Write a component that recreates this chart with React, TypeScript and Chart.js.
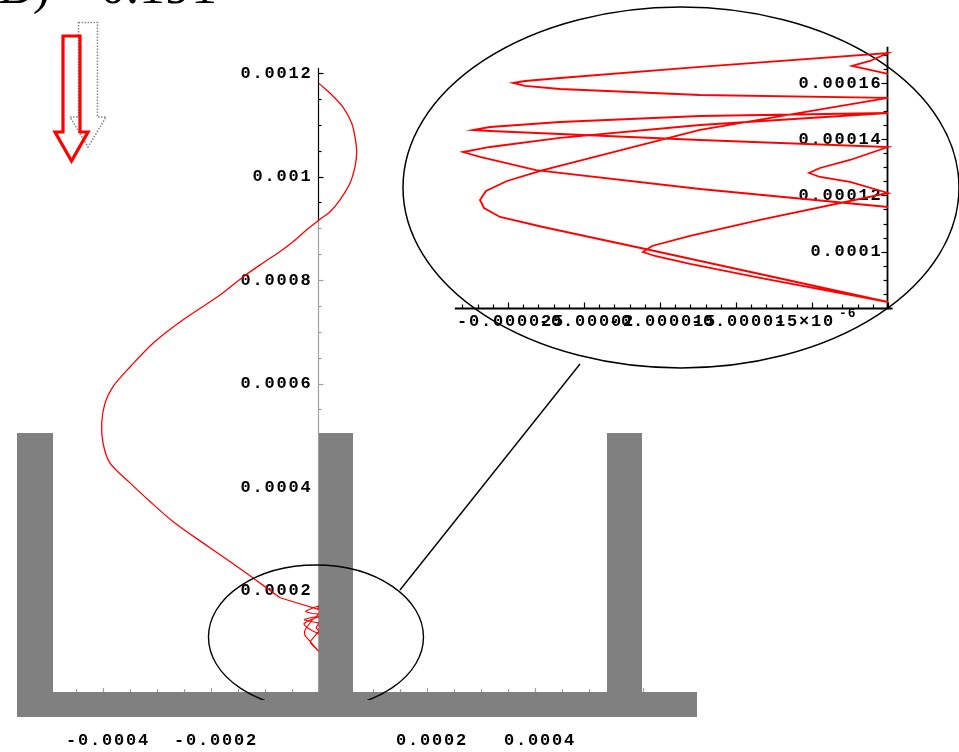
import React, { useEffect, useRef } from 'react';
import { Chart, registerables } from 'chart.js';

Chart.register(...registerables);

// Trajectory of the particle (x, y in metres): swing from the top down to the wall
const pathX = [0, 0.0000204, 0.0000444, 0.0000606, 0.0000667, 0.0000698, 0.0000667, 0.0000574, 0.0000389, 0.0000204, 0, -0.0000228, -0.0000481, -0.0000722, -0.0001037, -0.0001407, -0.0001833, -0.0002574, -0.0003074, -0.00035, -0.0003815, -0.0003963, -0.0004024, -0.0004, -0.000387, -0.00035, -0.000313, -0.00027, -0.000215, -0.000165, -0.000122, -0.0000722];
const pathY = [0.00118, 0.001161, 0.001134, 0.001103, 0.001076, 0.001048, 0.001019, 0.000987, 0.000955, 0.000932, 0.000916, 0.000897, 0.000874, 0.000855, 0.000833, 0.000806, 0.000771, 0.000719, 0.000678, 0.000632, 0.000594, 0.000562, 0.000524, 0.000485, 0.000446, 0.000408, 0.000372, 0.000333, 0.000292, 0.000256, 0.000224, 0.000186];

// Bouncing against the middle wall (shown magnified in the inset)
const nearX = [
  0, -0.000001184, -0.000002369, -0.000001184, 0,
  -0.00001237, -0.000021582, -0.000023885, -0.000024675, -0.000023885, -0.000021582, -0.00001237, 0,
  -0.00001237, -0.000022701, -0.00002507, -0.000026452, -0.000026846, -0.000026583, -0.00002553, -0.000022701, -0.00001566, 0,
  -0.000008422, -0.000013028, -0.000015331, -0.000016121, -0.000015529, -0.000013028, -0.000008422, 0,
  -0.0000025, -0.000004474, -0.000005198, -0.000004474, -0.0000025, 0,
  -0.00001237, -0.000021582, -0.000026188, -0.000027307, -0.000026188, -0.000021582, -0.00001237, 0,
  -0.00001237, -0.000021582, -0.000026188, -0.000027965, -0.000026846, -0.000023162, -0.00001237, 0,
];
const nearY = [
  0.00016312, 0.00016454, 0.00016596, 0.00016774, 0.00017058,
  0.00016561, 0.0001617, 0.00016063, 0.00015992, 0.00015886, 0.00015779, 0.00015566, 0.0001546,
  0.00014323, 0.000129, 0.00012511, 0.00012156, 0.00011836, 0.00011552, 0.00011233, 0.00010877, 0.0001006, 0.00008213,
  0.00009066, 0.00009563, 0.00009847, 0.00009989, 0.00010202, 0.00010558, 0.0001113, 0.00012085,
  0.00012476, 0.00012653, 0.00012795, 0.00012973, 0.00013257, 0.00013719,
  0.00013968, 0.00014181, 0.00014287, 0.00014323, 0.00014429, 0.00014607, 0.0001482, 0.00014927,
  0.000145, 0.00014039, 0.00013719, 0.00013541, 0.00013364, 0.000129, 0.00012227, 0.00011588,
];

// Container walls and floor
const wallX0 = [-0.000559, 0, 0.000533];
const wallX1 = [-0.000493, 0.000063, 0.000598];
const wallTop = 0.000504;
const floorX = [-0.000559, 0.0007];
const floorY = [-0.0000445, 0.000004];

// Main axes tick labels
const mainXTicks = [-0.0004, -0.0002, 0.0002, 0.0004];
const mainXLabels = ['-0.0004', '-0.0002', '0.0002', '0.0004'];
const mainYTicks = [0.0002, 0.0004, 0.0006, 0.0008, 0.001, 0.0012];
const mainYLabels = ['0.0002', '0.0004', '0.0006', '0.0008', '0.001', '0.0012'];

// Inset axes tick labels
const insetXTicks = [-0.000025, -0.00002, -0.000015, -0.00001];
const insetXLabels = ['-0.000025', '-0.00002', '-0.000015', '-0.00001'];
const insetYTicks = [0.0001, 0.00012, 0.00014, 0.00016];
const insetYLabels = ['0.0001', '0.00012', '0.00014', '0.00016'];

const MONO = 'bold 17px "Liberation Mono", "DejaVu Sans Mono", monospace';
const SPACING = '1.8px';
const RED = '#ff0000';
const GRAY = '#808080';

function seg(ctx: CanvasRenderingContext2D, x1: number, y1: number, x2: number, y2: number) {
  ctx.beginPath();
  ctx.moveTo(x1, y1);
  ctx.lineTo(x2, y2);
  ctx.stroke();
}

function arrowPath(ctx: CanvasRenderingContext2D, l: number, r: number, top: number, neck: number, hl: number, hr: number, tipX: number, tipY: number) {
  ctx.beginPath();
  ctx.moveTo(l, top);
  ctx.lineTo(r, top);
  ctx.lineTo(r, neck);
  ctx.lineTo(hr, neck);
  ctx.lineTo(tipX, tipY);
  ctx.lineTo(hl, neck);
  ctx.lineTo(l, neck);
  ctx.closePath();
}

const mainDecor = {
  id: 'mainDecor',
  beforeDatasetsDraw(chart: any) {
    const { ctx } = chart;
    const xs = chart.scales.x;
    const ys = chart.scales.y;
    ctx.save();
    const x0 = Math.round(xs.getPixelForValue(0)) - 0.5;
    const y0 = ys.getPixelForValue(0);
    const split = 0.000915;
    ctx.lineWidth = 1.2;
    ctx.strokeStyle = '#a0a0a0';
    seg(ctx, x0, ys.getPixelForValue(split), x0, y0);
    ctx.strokeStyle = '#000';
    seg(ctx, x0, ys.getPixelForValue(0.00121), x0, ys.getPixelForValue(split));
    for (let k = 0; k <= 24; k++) {
      const v = k * 0.00005;
      const py = Math.round(ys.getPixelForValue(v)) + 0.5;
      ctx.strokeStyle = v > split ? '#000' : '#a0a0a0';
      seg(ctx, x0, py, x0 + (k % 4 === 0 ? 5 : 3), py);
    }
    // x-axis ticks (axis line itself lies under the floor)
    ctx.strokeStyle = '#a0a0a0';
    for (let k = -10; k <= 12; k++) {
      const px = Math.round(xs.getPixelForValue(k * 0.00005)) + 0.5;
      seg(ctx, px, y0, px, y0 - (k % 4 === 0 ? 6 : 5));
    }
    ctx.fillStyle = '#000';
    ctx.font = MONO;
    (ctx as any).letterSpacing = SPACING;
    ctx.textAlign = 'right';
    ctx.textBaseline = 'middle';
    mainYTicks.forEach((v, i) => {
      ctx.fillText(mainYLabels[i], x0 - 6, ys.getPixelForValue(v) + 0.5);
    });
    ctx.textAlign = 'center';
    mainXTicks.forEach((v, i) => {
      ctx.fillText(mainXLabels[i], xs.getPixelForValue(v) + 5, 741);
    });
    ctx.restore();
  },
  afterDatasetsDraw(chart: any) {
    const { ctx } = chart;
    const xs = chart.scales.x;
    const ys = chart.scales.y;
    const X = (v: number) => xs.getPixelForValue(v);
    const Y = (v: number) => ys.getPixelForValue(v);
    ctx.save();
    // walls and floor
    ctx.fillStyle = GRAY;
    wallX0.forEach((a, i) => {
      const l = Math.round(X(a));
      const r = Math.round(X(wallX1[i]));
      const t = Math.round(Y(wallTop));
      ctx.fillRect(l, t, r - l, Math.round(Y(floorY[1])) - t + 2);
    });
    {
      const l = Math.round(X(floorX[0]));
      const r = Math.round(X(floorX[1]));
      const t = Math.round(Y(floorY[1]));
      const b = Math.round(Y(floorY[0]));
      ctx.fillRect(l, t, r - l, b - t);
    }
    // small ellipse around the bouncing region, with a pointer to the magnified view
    ctx.strokeStyle = '#000';
    ctx.lineWidth = 1.4;
    ctx.save();
    ctx.beginPath();
    ctx.rect(0, 0, chart.width, Y(-0.0000116));
    ctx.clip();
    const scx = -0.0000056, scy = 0.00011015;
    ctx.beginPath();
    ctx.ellipse(X(scx), Y(scy), X(scx + 0.0001991) - X(scx), Y(scy) - Y(scy + 0.0001391), 0, 0, Math.PI * 2);
    ctx.stroke();
    ctx.restore();
    seg(ctx, X(0.00015), Y(0.000201), X(0.00048337), Y(0.00063769));
    const bcx = 0.00067042, bcy = 0.00097876;
    ctx.lineWidth = 1.5;
    ctx.beginPath();
    ctx.ellipse(X(bcx), Y(bcy), X(bcx + 0.00051486) - X(bcx), Y(bcy) - Y(bcy + 0.0003488), 0, 0, Math.PI * 2);
    ctx.stroke();
    // direction arrows
    ctx.lineWidth = 1.6;
    ctx.strokeStyle = '#8a8a8a';
    ctx.setLineDash([1.5, 1.5]);
    arrowPath(ctx, 78.5, 97.5, 22.5, 117, 70, 106, 88, 147);
    ctx.stroke();
    ctx.setLineDash([]);
    ctx.strokeStyle = RED;
    ctx.lineWidth = 3.2;
    ctx.lineJoin = 'miter';
    arrowPath(ctx, 63, 80, 36, 132, 55, 88, 71.5, 161);
    ctx.stroke();
    // panel caption (top cut off)
    ctx.fillStyle = '#000';
    ctx.font = '52px "Liberation Serif", "DejaVu Serif", serif';
    ctx.textAlign = 'left';
    ctx.textBaseline = 'alphabetic';
    ctx.fillText('B)', -2, 3);
    ctx.fillText('0.191', 100, 3);
    ctx.restore();
  },
};

const insetDecor = {
  id: 'insetDecor',
  beforeDatasetsDraw(chart: any) {
    const { ctx } = chart;
    const xs = chart.scales.x;
    const ys = chart.scales.y;
    const X = (v: number) => xs.getPixelForValue(v);
    const Y = (v: number) => ys.getPixelForValue(v);
    ctx.save();
    const x0 = Math.round(X(0)) - 0.5;
    const yb = Math.round(Y(0.0000799)) + 0.5;
    ctx.strokeStyle = '#000';
    ctx.lineWidth = 1.8;
    seg(ctx, x0, Y(0.0001728), x0, yb);
    seg(ctx, X(-0.0000285), yb, X(0.0000003), yb);
    ctx.lineWidth = 1.2;
    for (let k = 16; k <= 34; k++) {
      const v = k * 0.000005;
      const py = Math.round(Y(v)) + 0.5;
      seg(ctx, x0, py, x0 - (k % 4 === 0 ? 6 : 4), py);
    }
    for (let k = -28; k <= 0; k++) {
      const px = Math.round(X(k * 0.000001)) + 0.5;
      seg(ctx, px, yb, px, yb - (k % 5 === 0 ? 6 : 4));
    }
    ctx.fillStyle = '#000';
    ctx.font = MONO;
    (ctx as any).letterSpacing = SPACING;
    ctx.textAlign = 'right';
    ctx.textBaseline = 'middle';
    insetYTicks.forEach((v, i) => ctx.fillText(insetYLabels[i], x0 - 5, Y(v) + 0.5));
    ctx.textAlign = 'center';
    insetXTicks.forEach((v, i) => ctx.fillText(insetXLabels[i], X(v) + 3, 322));
    // -5 x 10^-6 with raised exponent
    const t5 = X(-0.000005);
    ctx.textAlign = 'left';
    ctx.fillText('-5×10', t5 - 37, 322);
    ctx.font = 'bold 13px "Liberation Mono", "DejaVu Sans Mono", monospace';
    (ctx as any).letterSpacing = '1px';
    ctx.fillText('-6', t5 + 27, 314);
    ctx.restore();
  },
};

const toPoints = (xs: number[], ys: number[]) => xs.map((x, i) => ({ x, y: ys[i] }));

export default function App() {
  const mainRef = useRef<HTMLCanvasElement>(null);
  const insetRef = useRef<HTMLCanvasElement>(null);

  useEffect(() => {
    const last = pathX.length - 1;
    const main = new Chart(mainRef.current as HTMLCanvasElement, {
      type: 'scatter',
      data: {
        datasets: [
          {
            data: toPoints(pathX, pathY),
            showLine: true,
            borderColor: RED,
            borderWidth: 1.3,
            pointRadius: 0,
            tension: 0.3,
          },
          {
            data: toPoints([pathX[last], ...nearX], [pathY[last], ...nearY]),
            showLine: true,
            borderColor: RED,
            borderWidth: 1.1,
            pointRadius: 0,
            tension: 0,
          },
        ],
      },
      options: {
        responsive: false,
        animation: false,
        devicePixelRatio: 1,
        events: [],
        layout: { padding: 0 },
        plugins: { legend: { display: false }, tooltip: { enabled: false } },
        scales: {
          x: { type: 'linear', min: -0.00059079, max: 0.00118528, display: false },
          y: { type: 'linear', min: -0.00011208, max: 0.00134109, display: false },
        },
      },
      plugins: [mainDecor],
    });

    const inset = new Chart(insetRef.current as HTMLCanvasElement, {
      type: 'scatter',
      data: {
        datasets: [
          {
            data: toPoints(nearX, nearY),
            showLine: true,
            borderColor: RED,
            borderWidth: 1.8,
            pointRadius: 0,
            tension: 0,
          },
        ],
      },
      options: {
        responsive: false,
        animation: false,
        devicePixelRatio: 1,
        events: [],
        layout: { padding: 0 },
        plugins: { legend: { display: false }, tooltip: { enabled: false } },
        scales: {
          x: { type: 'linear', min: -0.00005843, max: 0.000004672, display: false },
          y: { type: 'linear', min: -0.00007771, max: 0.0001894, display: false },
        },
      },
      plugins: [insetDecor],
    });

    return () => {
      main.destroy();
      inset.destroy();
    };
  }, []);

  return (
    <div style={{ position: 'absolute', left: 0, top: 0, width: 959, height: 752, background: '#fff', overflow: 'hidden' }}>
      <canvas ref={mainRef} width={959} height={752} style={{ position: 'absolute', left: 0, top: 0 }} />
      <canvas ref={insetRef} width={959} height={752} style={{ position: 'absolute', left: 0, top: 0 }} />
    </div>
  );
}
